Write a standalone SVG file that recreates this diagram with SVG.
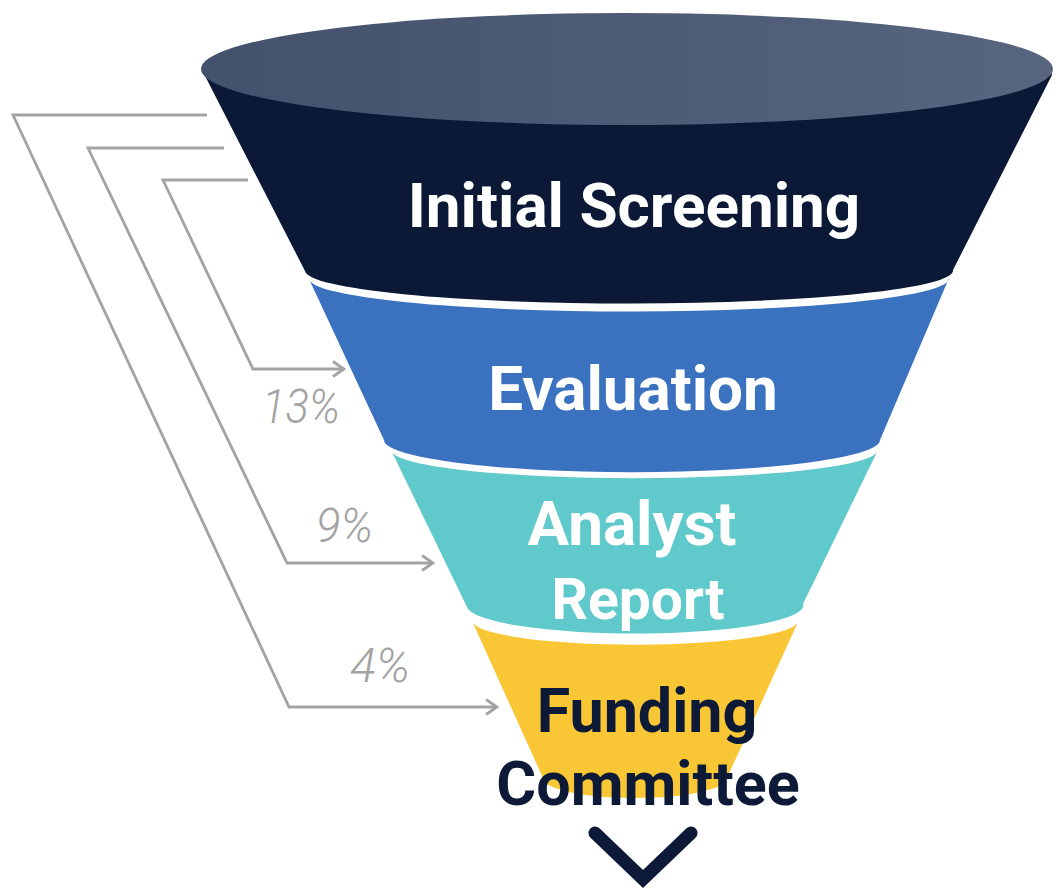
<svg xmlns="http://www.w3.org/2000/svg" width="1061" height="888" viewBox="0 0 1061 888">
  <defs>
    <linearGradient id="rim" x1="0" y1="0" x2="1" y2="0">
      <stop offset="0" stop-color="#44516c"/>
      <stop offset="1" stop-color="#58657f"/>
    </linearGradient>
    <marker id="arr" viewBox="0 0 14 18" refX="12.5" refY="9" markerWidth="14" markerHeight="18" markerUnits="userSpaceOnUse" orient="auto">
      <path d="M1.5,1.5 L12.5,9 L1.5,16.5" fill="none" stroke="#a3a3a3" stroke-width="2.8"/>
    </marker>
  </defs>
  <style>
    .lbl{font-family:Roboto,"Liberation Sans",sans-serif;font-weight:700;text-anchor:middle}
    .w{fill:#ffffff}
    .d{fill:#0c1a38}
    .pct{font-family:Roboto,"Liberation Sans",sans-serif;font-weight:300;font-style:italic;fill:#a3a3a3}
    .conn{fill:none;stroke:#a3a3a3;stroke-width:2.8}
  </style>
  <rect width="1061" height="888" fill="#ffffff"/>

  <g id="connectors">
    <polyline class="conn" points="248,180 163,180 253,369 344,369" marker-end="url(#arr)"/>
    <polyline class="conn" points="224,148 88,148 287,563 433,563" marker-end="url(#arr)"/>
    <polyline class="conn" points="207,115 13,115 289,707 497,707" marker-end="url(#arr)"/>
    <text class="pct" x="262" y="423" font-size="48" textLength="78" lengthAdjust="spacingAndGlyphs">13%</text>
    <text class="pct" x="316" y="542" font-size="48" textLength="57" lengthAdjust="spacingAndGlyphs">9%</text>
    <text class="pct" x="350" y="682" font-size="48" textLength="60" lengthAdjust="spacingAndGlyphs">4%</text>
  </g>

  <g id="funding-committee">
    <path d="M473,623 A163,24 0 0 0 798,622 L727,778 A92,20 0 0 1 543,778 Z" fill="#f9c735"/>
    <text class="lbl d" x="647" y="732" font-size="61">Funding</text>
    <text class="lbl d" x="648" y="805" font-size="61">Committee</text>
  </g>

  <g id="analyst-report">
    <path d="M392,452 A243,28 0 0 0 877,452 L803,604 A168,28 0 0 1 467,607 Z" fill="#60c9cc"/>
    <text class="lbl w" x="632" y="545" font-size="62">Analyst</text>
    <text class="lbl w" x="638" y="619" font-size="57">Report</text>
  </g>

  <g id="evaluation">
    <path d="M309,279 A320,33 0 0 0 949,278 L880,440 A247,32 0 0 1 384,440 Z" fill="#3a72c0"/>
    <text class="lbl w" x="633" y="410" font-size="62">Evaluation</text>
  </g>

  <g id="initial-screening">
    <path d="M202,70 L305,271 A324,33 0 0 0 953,270 L1052,75 A426,56 0 0 0 202,70 Z" fill="#0b1937"/>
    <ellipse cx="627" cy="69" rx="426" ry="56" fill="url(#rim)"/>
    <text class="lbl w" x="634" y="227" font-size="62">Initial Screening</text>
  </g>

  <g id="chevron">
    <polyline points="595,833 643,879 691,833" fill="none" stroke="#0c1a38" stroke-width="13" stroke-linecap="round" stroke-linejoin="miter"/>
  </g>
</svg>
